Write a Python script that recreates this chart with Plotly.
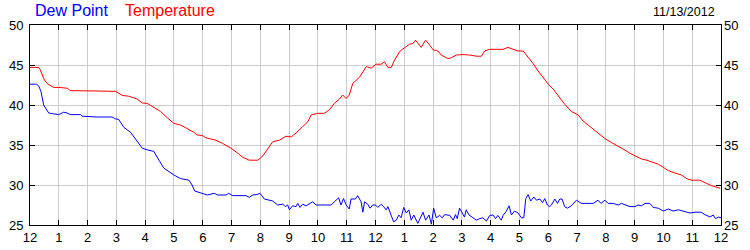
import plotly.graph_objects as go

# Hours since midnight (0..24) and readings
temp_hours = [0.0, 0.30, 0.36, 0.475, 0.59, 0.82, 1.0, 1.29, 1.40, 2.0, 2.33, 2.98, 3.2, 3.43, 3.72,
              3.90, 4.07, 4.30, 4.53, 4.77, 5.0, 5.23, 5.46, 5.69, 5.81, 5.98, 6.11, 6.46, 6.69, 6.98,
              7.21, 7.39, 7.62, 7.91, 8.08, 8.26, 8.43, 8.66, 8.89, 9.07, 9.24, 9.47, 9.65, 9.76, 9.99,
              10.22, 10.40, 10.57, 10.75, 10.86, 10.98, 11.09, 11.21, 11.45, 11.68, 11.85, 12.02, 12.20,
              12.31, 12.43, 12.55, 12.66, 12.84, 12.95, 13.18, 13.30, 13.39, 13.59, 13.74, 13.88, 14.0,
              14.17, 14.28, 14.52, 14.63, 14.81, 15.04, 15.27, 15.50, 15.68, 15.79, 15.97, 16.20, 16.43,
              16.60, 16.78, 16.95, 17.13, 17.30, 17.47, 17.65, 17.82, 18.0, 18.17, 18.34, 18.57, 18.80,
              19.04, 19.21, 19.38, 19.62, 19.79, 19.97, 20.2, 20.37, 20.6, 20.84, 21.01, 21.24, 21.42,
              21.65, 21.82, 22.0, 22.17, 22.40, 22.63, 22.81, 22.98, 23.27, 23.44, 23.68, 23.97]
temperature = [44.7, 44.7, 44.4, 43.3, 42.7, 42.2, 42.2, 42.1, 41.8, 41.8, 41.75, 41.7, 41.2, 41.1, 40.75,
               40.25, 40.2, 39.7, 39.2, 38.4, 37.7, 37.5, 37.1, 36.6, 36.25, 36.2, 35.9, 35.6, 35.2, 34.6,
               34.0, 33.45, 33.1, 33.1, 33.6, 34.6, 35.4, 35.6, 36.1, 36.0, 36.5, 37.3, 37.9, 38.75, 38.96,
               38.96, 39.4, 40.2, 40.75, 41.25, 40.8, 41.25, 42.7, 43.5, 44.8, 44.6, 45.1, 45.1,
               45.4, 44.7, 44.7, 45.6, 46.7, 47.0, 47.6, 47.7, 48.1, 47.2, 48.1, 47.5, 46.9,
               46.75, 46.25, 45.8, 45.9, 46.25, 46.3, 46.25, 46.1, 46.1, 46.75, 46.96, 46.96, 46.96,
               47.2, 47.0, 46.75, 46.75, 46.0, 45.2, 44.25, 43.5, 42.6, 42.0, 41.2, 40.1, 39.2,
               38.75, 38.0, 37.5, 36.75, 36.25, 35.8, 35.3, 35.0, 34.5, 33.96, 33.7, 33.25, 33.1,
               32.8, 32.6, 32.2, 31.8, 31.5, 31.25, 30.8, 30.6, 30.6, 30.3, 29.9, 29.6]

dew_hours = [0.0, 0.22, 0.30, 0.38, 0.475, 0.65, 0.82, 1.0, 1.17, 1.29, 1.40, 1.75, 1.81, 2.33, 2.85,
             2.98, 3.08, 3.26, 3.49, 3.66, 3.90, 4.07, 4.30, 4.48, 4.65, 5.0, 5.23, 5.52, 5.63, 5.72,
             5.93, 6.16, 6.40, 6.52, 6.81, 6.90, 7.04, 7.21, 7.39, 7.50, 7.62, 7.74, 7.91, 7.99, 8.14,
             8.31, 8.43, 8.60, 8.78, 8.87, 8.95, 9.01, 9.12, 9.24, 9.30, 9.38, 9.47, 9.59, 9.82, 9.94,
             10.05, 10.28, 10.46, 10.57, 10.72, 10.80, 10.89, 10.98, 11.09, 11.15, 11.30, 11.38, 11.50,
             11.56, 11.62, 11.73, 11.81, 11.90, 12.0, 12.08, 12.20, 12.28, 12.37, 12.43, 12.51, 12.63,
             12.72, 12.81, 12.89, 12.98, 13.07, 13.16, 13.24, 13.33, 13.47, 13.55, 13.65, 13.74, 13.86,
             13.94, 14.02, 14.11, 14.23, 14.32, 14.40, 14.58, 14.70, 14.78, 14.84, 14.92, 15.01, 15.09,
             15.15, 15.25, 15.39, 15.50, 15.62, 15.73, 15.85, 15.97, 16.08, 16.17, 16.25, 16.37, 16.43,
             16.54, 16.64, 16.72, 16.83, 16.95, 17.07, 17.15, 17.22, 17.30, 17.39, 17.50, 17.59, 17.71,
             17.80, 17.88, 17.97, 18.05, 18.11, 18.23, 18.32, 18.40, 18.48, 18.57, 18.67, 18.80, 18.98,
             19.15, 19.38, 19.56, 19.73, 19.83, 19.97, 20.08, 20.26, 20.43, 20.54, 20.66, 20.84, 21.01,
             21.12, 21.24, 21.36, 21.53, 21.65, 21.82, 22.0, 22.17, 22.34, 22.52, 22.69, 22.92, 23.10,
             23.30, 23.44, 23.62, 23.73, 23.81, 23.91, 24.0]
dew_point = [42.6, 42.6, 42.4, 41.7, 40.0, 39.0, 38.9, 38.8, 39.1, 39.0, 38.8, 38.8, 38.6, 38.5, 38.5,
             38.25, 38.2, 37.2, 36.6, 35.8, 34.6, 34.4, 34.2, 33.1, 32.1, 31.25, 30.8, 30.6, 30.0, 29.25,
             29.0, 28.75, 28.96, 28.75, 28.75, 28.96, 28.67, 28.67, 28.63, 28.67, 28.46, 28.75, 28.83, 28.96, 28.25,
             28.1, 28.0, 27.5, 27.6, 27.3, 27.5, 26.9, 27.4, 27.3, 27.7, 27.2, 27.6, 27.4, 27.9, 27.5,
             27.5, 27.5, 27.5, 27.9, 28.4, 27.5, 28.3, 27.5, 27.0, 28.25, 28.25, 28.67, 27.9,
             26.6, 27.9, 27.6, 27.1, 27.5, 27.5, 27.2, 27.6, 27.3, 26.9, 27.3, 26.5, 25.4,
             25.6, 26.25, 25.9, 27.2, 26.5, 26.9, 25.6, 26.25, 25.2, 25.8, 26.6, 25.6, 26.25,
             25.1, 27.1, 25.9, 26.2, 25.9, 26.3, 26.2, 25.6, 26.3, 25.8, 27.1, 26.5, 26.0,
             26.9, 26.25, 25.9, 25.6, 25.8, 25.9, 25.5, 26.2, 26.25, 25.8, 26.2, 25.6, 26.2,
             26.7, 27.4, 26.25, 26.75, 26.5, 25.9, 25.9, 28.3, 28.8, 28.0, 28.5, 28.1, 28.25,
             27.8, 28.3, 27.5, 27.3, 27.5, 28.25, 27.7, 28.25, 28.25, 27.3, 27.1, 27.4, 28.1,
             27.7, 27.7, 27.7, 28.1, 27.7, 28.1, 27.7, 27.7, 27.5, 27.7, 27.5, 27.3, 27.3,
             27.5, 27.4, 27.7, 27.7, 27.2, 27.1, 26.75, 27.0, 26.75, 26.9, 26.7, 26.5, 26.6,
             26.6, 26.3, 26.0, 26.25, 25.8, 26.0, 25.9]

x_tick_vals = list(range(0, 25))
x_tick_text = ["12", "1", "2", "3", "4", "5", "6", "7", "8", "9", "10", "11",
               "12", "1", "2", "3", "4", "5", "6", "7", "8", "9", "10", "11", "12"]
y_tick_vals = [25, 30, 35, 40, 45, 50]
date_label = "11/13/2012"

FONT = "Liberation Sans, Arial, sans-serif"

fig = go.Figure()
fig.add_trace(go.Scatter(x=dew_hours, y=dew_point, mode="lines", name="Dew Point",
                         line=dict(color="#0000FF", width=1), showlegend=False))
fig.add_trace(go.Scatter(x=temp_hours, y=temperature, mode="lines", name="Temperature",
                         line=dict(color="#FF0000", width=1), showlegend=False))
# invisible copy to anchor the right-hand axis
fig.add_trace(go.Scatter(x=temp_hours, y=temperature, mode="lines", yaxis="y2",
                         line=dict(color="rgba(0,0,0,0)", width=0), showlegend=False, hoverinfo="skip"))

fig.update_layout(
    width=750, height=250,
    margin=dict(l=30, r=29, t=25, b=25, autoexpand=False),
    paper_bgcolor="white", plot_bgcolor="white",
    font=dict(family=FONT, size=13, color="black"),
    xaxis=dict(range=[0, 24], tickvals=x_tick_vals, ticktext=x_tick_text,
               showgrid=True, gridcolor="#CCCCCC", gridwidth=1,
               showline=True, linecolor="black", linewidth=1, mirror="ticks",
               ticks="inside", ticklen=5, tickcolor="black", tickwidth=1,
               tickfont=dict(family=FONT, size=13, color="black"), zeroline=False,
               automargin=False, ticklabelstandoff=0),
    yaxis=dict(range=[25, 50], tickvals=y_tick_vals,
               showgrid=True, gridcolor="#CCCCCC", gridwidth=1,
               showline=True, linecolor="black", linewidth=1, mirror="ticks",
               ticks="inside", ticklen=5, tickcolor="black", tickwidth=1,
               tickfont=dict(family=FONT, size=13, color="black"), zeroline=False,
               automargin=False, ticklabelstandoff=3),
    yaxis2=dict(range=[25, 50], tickvals=y_tick_vals, overlaying="y", side="right",
                showgrid=False, showline=False, ticks="", zeroline=False, automargin=False,
                tickfont=dict(family=FONT, size=13, color="black"), ticklabelstandoff=2),
    annotations=[
        dict(text="Dew Point", xref="paper", yref="paper", x=0.0043, y=1.07,
             xanchor="left", yanchor="middle", showarrow=False,
             font=dict(family=FONT, size=16, color="#0000FF")),
        dict(text="Temperature", xref="paper", yref="paper", x=0.1346, y=1.07,
             xanchor="left", yanchor="middle", showarrow=False,
             font=dict(family=FONT, size=16, color="#FF0000")),
        dict(text=date_label, xref="paper", yref="paper", x=0.994, y=1.065,
             xanchor="right", yanchor="middle", showarrow=False,
             font=dict(family=FONT, size=12.5, color="black")),
    ],
)

fig.write_html("out.html")
